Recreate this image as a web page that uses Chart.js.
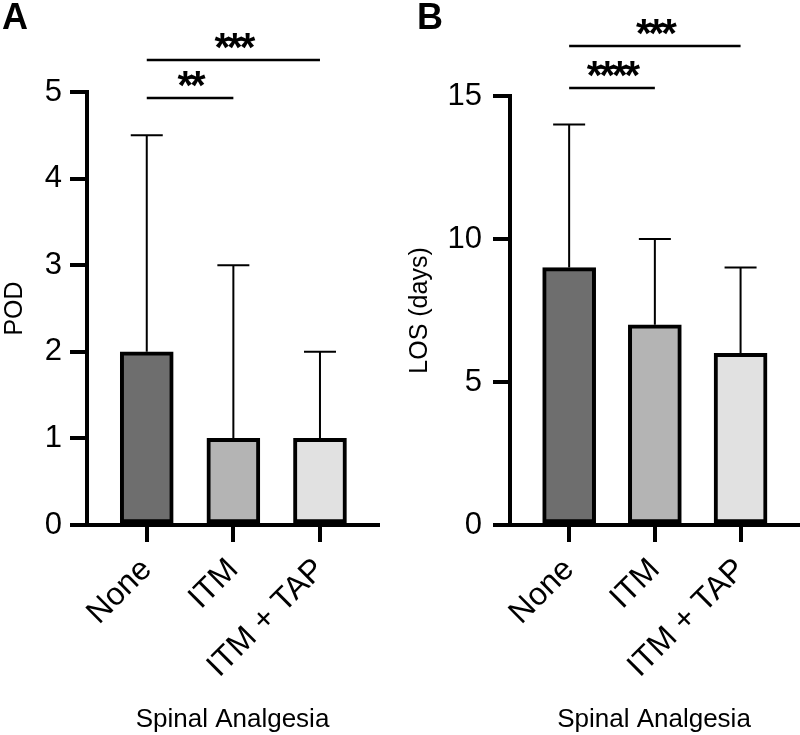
<!DOCTYPE html>
<html>
<head>
<meta charset="utf-8">
<script src="https://cdn.jsdelivr.net/npm/chart.js@4.4.1/dist/chart.umd.min.js"></script>
<style>
    html, body { margin: 0; padding: 0; background: #fff; }
    #wrap { position: relative; width: 800px; height: 735px; overflow: hidden; }
    .panel { position: absolute; top: 0; width: 400px; height: 735px; }
    .letter { position: absolute; top: -4px; font: bold 36px "Liberation Sans", Arial, sans-serif; color: #000; line-height: normal; }
</style>
</head>
<body>
<div id="wrap">
    <div class="panel" style="left:0"><canvas id="chartA" width="400" height="735"></canvas></div>
    <div class="panel" style="left:400px"><canvas id="chartB" width="400" height="735"></canvas></div>
    <div class="letter" style="left:2px">A</div>
    <div class="letter" style="left:417px">B</div>
</div>
<script>
const categories = ["None", "ITM", "ITM + TAP"];
const barColors = ["#6e6e6e", "#b4b4b4", "#e1e1e1"];

// panel A: postoperative day
const podValues = [2, 1, 1];
const podUpper = [4.5, 3, 2];
const podTicks = [0, 1, 2, 3, 4, 5];
const podBrackets = [
    { from: 0, to: 1, y: 4.93, label: "**" },
    { from: 0, to: 2, y: 5.37, label: "***" }
];

// panel B: length of stay
const losValues = [9, 7, 6];
const losUpper = [14, 10, 9];
const losTicks = [0, 5, 10, 15];
const losBrackets = [
    { from: 0, to: 1, y: 15.28, label: "****" },
    { from: 0, to: 2, y: 16.75, label: "***" }
];

const FONT = "'Liberation Sans', Arial, sans-serif";

// draws the upper error bars and the significance brackets
const annotatePlugin = {
    id: "annotate",
    afterDatasetsDraw(chart, args, opts) {
        const ctx = chart.ctx;
        const xs = chart.scales.x;
        const ys = chart.scales.y;
        const values = chart.data.datasets[0].data;

        ctx.save();
        ctx.strokeStyle = "#000";
        ctx.lineWidth = 2;
        opts.upper.forEach((u, i) => {
            const x = xs.getPixelForValue(i);
            const yTop = ys.getPixelForValue(values[i].y);
            const yU = ys.getPixelForValue(u);
            ctx.beginPath();
            ctx.moveTo(x, yTop);
            ctx.lineTo(x, yU);
            ctx.moveTo(x - 16, yU);
            ctx.lineTo(x + 16, yU);
            ctx.stroke();
        });

        ctx.lineWidth = 2.5;
        ctx.fillStyle = "#000";
        ctx.font = `bold 40px ${FONT}`;
        ctx.textAlign = "center";
        ctx.textBaseline = "alphabetic";
        if ("letterSpacing" in ctx) ctx.letterSpacing = "-3px";
        opts.brackets.forEach(b => {
            const x1 = xs.getPixelForValue(b.from);
            const x2 = xs.getPixelForValue(b.to);
            const y = ys.getPixelForValue(b.y);
            ctx.beginPath();
            ctx.moveTo(x1, y);
            ctx.lineTo(x2, y);
            ctx.stroke();
            ctx.fillText(b.label, (x1 + x2) / 2, y + 1);
        });
        ctx.restore();
    }
};

function makePanel(id, values, upper, ticks, brackets, yTitle, layout) {
    const ctx = document.getElementById(id);
    return new Chart(ctx, {
        type: "bar",
        data: {
            datasets: [{
                data: values.map((v, i) => ({ x: i, y: v })),
                backgroundColor: barColors,
                borderColor: "#000",
                borderWidth: 4,
                borderSkipped: false,
                barThickness: 53
            }]
        },
        options: {
            responsive: false,
            animation: false,
            layout: { padding: { top: layout.top, right: layout.right, left: 0, bottom: 0 } },
            plugins: {
                legend: { display: false },
                tooltip: { enabled: false },
                annotate: { upper: upper, brackets: brackets }
            },
            scales: {
                x: {
                    type: "linear",
                    min: -0.69,
                    max: 2.67,
                    offset: false,
                    afterBuildTicks(scale) { scale.ticks = categories.map((c, i) => ({ value: i })); },
                    afterFit(scale) { scale.height = 210; },
                    ticks: {
                        callback: v => categories[v],
                        maxRotation: 45,
                        minRotation: 45,
                        padding: 9,
                        color: "#000",
                        font: { family: FONT, size: 32 }
                    },
                    grid: { offset: false, drawOnChartArea: false, drawTicks: true, tickLength: 17, tickWidth: 4, tickColor: "#000", lineWidth: 4, color: "#000" },
                    border: { display: true, width: 4, color: "#000" },
                    title: {
                        display: true,
                        text: "Spinal Analgesia",
                        color: "#000",
                        font: { family: FONT, size: 26 },
                        padding: { top: 0, bottom: 0 }
                    }
                },
                y: {
                    min: 0,
                    max: ticks[ticks.length - 1],
                    afterBuildTicks(scale) { scale.ticks = ticks.map(v => ({ value: v })); },
                    afterFit(scale) { scale.width = layout.yWidth; },
                    ticks: {
                        padding: layout.tickPad,
                        color: "#000",
                        font: { family: FONT, size: 31 }
                    },
                    grid: { drawOnChartArea: false, drawTicks: true, tickLength: 17, tickWidth: 4, tickColor: "#000", lineWidth: 4, color: "#000" },
                    border: { display: true, width: 4, color: "#000" },
                    title: {
                        display: true,
                        text: yTitle,
                        color: "#000",
                        font: { family: FONT, size: 25 },
                        padding: { top: layout.titlePad, bottom: 0 }
                    }
                }
            }
        },
        plugins: [annotatePlugin]
    });
}

makePanel("chartA", podValues, podUpper, podTicks, podBrackets, "POD", { top: 92, right: 22, yWidth: 87, tickPad: 8, titlePad: 0 });
makePanel("chartB", losValues, losUpper, losTicks, losBrackets, "LOS (days)", { top: 96, right: 2, yWidth: 110, tickPad: 11, titlePad: 5 });
</script>
</body>
</html>
